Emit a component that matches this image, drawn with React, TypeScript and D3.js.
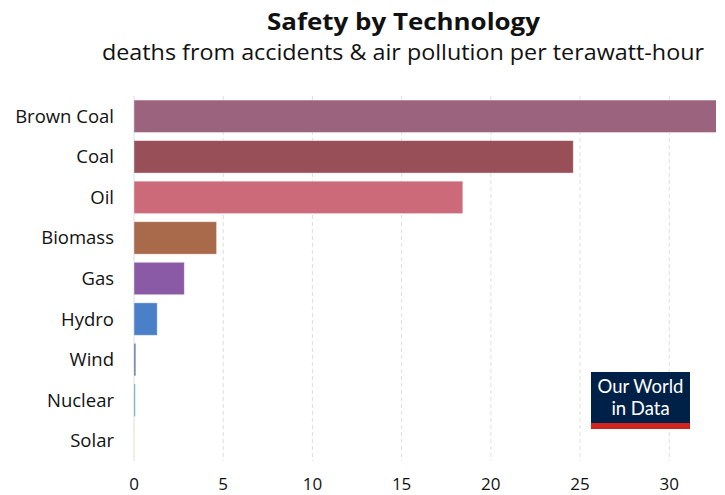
import React from "react";
import * as d3 from "d3";

const categories = ["Brown Coal", "Coal", "Oil", "Biomass", "Gas", "Hydro", "Wind", "Nuclear", "Solar"];
const values = [32.72, 24.62, 18.43, 4.63, 2.82, 1.3, 0.1, 0.07, 0.01];
const colors = ["#9c637e", "#994f57", "#cc6a7a", "#a86a4a", "#8a5aa6", "#4a80c8", "#5a6eaa", "#4aa3a0", "#e0b040"];
const ticks = [0, 5, 10, 15, 20, 25, 30];
const title = "Safety by Technology";
const subtitle = "deaths from accidents & air pollution per terawatt-hour";
const logoLines = ["Our World", "in Data"];

const W = 725, H = 495;
const left = 134, right = 716;
const top = 96, bottom = 461;

export default function App() {
  const x = d3.scaleLinear().domain([0, 32.62]).range([left, right]);
  const y = d3.scaleBand<string>().domain(categories).range([top, bottom]).paddingInner(0.2).paddingOuter(0.1);
  const font = "'Open Sans', 'Noto Sans', sans-serif";
  return (
    <svg width={W} height={H} style={{ position: "absolute", left: 0, top: 0, background: "#fff" }}>
      <defs>
        <clipPath id="plot">
          <rect x={left} y={top - 5} width={right - left} height={bottom - top + 10} />
        </clipPath>
      </defs>
      <text x={403.5} y={30} textAnchor="middle" fontFamily={font} fontWeight="bold" fontSize={24} fill="#111" textLength={273} lengthAdjust="spacingAndGlyphs">{title}</text>
      <text x={403} y={60} textAnchor="middle" fontFamily={font} fontSize={21} fill="#111" textLength={602} lengthAdjust="spacingAndGlyphs">{subtitle}</text>
      {ticks.map((t) => (
        <line key={"g" + t} x1={x(t)} x2={x(t)} y1={top} y2={bottom} stroke="#ddd" strokeDasharray={t === 0 ? undefined : "4,3"} strokeWidth={1} />
      ))}
      <g clipPath="url(#plot)">
        {categories.map((c, i) => (
          <rect key={c} x={x(0)} y={y(c)!} width={Math.max(0, x(values[i]) - x(0))} height={y.bandwidth()} fill={colors[i]} stroke="#fff" strokeOpacity={0.5} strokeWidth={0.8} />
        ))}
      </g>
      {categories.map((c) => (
        <text key={"l" + c} x={114} y={y(c)! + y.bandwidth() / 2} dy="0.35em" textAnchor="end" fontFamily={font} fontSize={18.5} fill="#111">{c}</text>
      ))}
      {ticks.map((t) => (
        <text key={"t" + t} x={x(t)} y={484} dy="0.35em" textAnchor="middle" fontFamily={font} fontSize={17} fill="#111">{t}</text>
      ))}
      <g>
        <rect x={591} y={372} width={99} height={51} fill="#002147" />
        <rect x={591} y={423} width={99} height={6} fill="#ce261e" />
        {logoLines.map((s, i) => (
          <text key={s} x={640.5} y={393 + i * 22} textAnchor="middle" fontFamily="Lato, sans-serif" fontSize={18.5} fill="#fff">{s}</text>
        ))}
      </g>
    </svg>
  );
}
